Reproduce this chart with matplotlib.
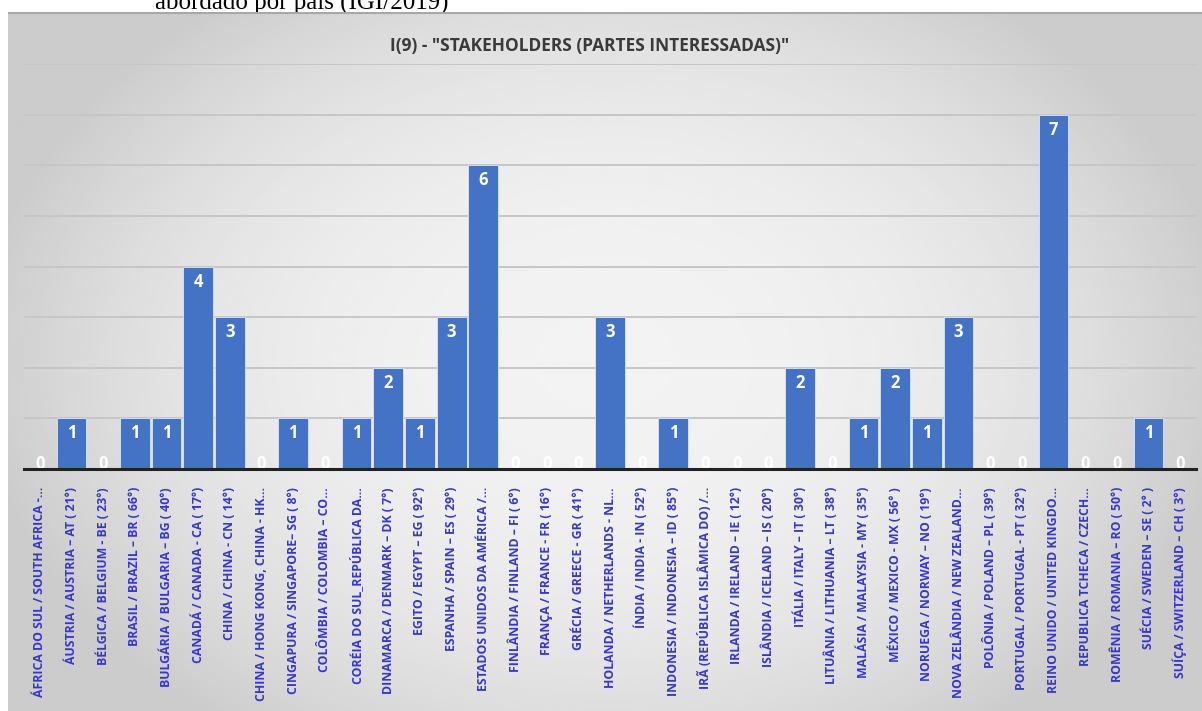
import numpy as np
import matplotlib.pyplot as plt

# countries (x axis) and number of "stakeholders" mentions
paises = [
    'ÁFRICA DO SUL / SOUTH AFRICA -…',
    'ÁUSTRIA / AUSTRIA – AT ( 21°)',
    'BÉLGICA / BELGIUM - BE ( 23°)',
    'BRASIL / BRAZIL – BR ( 66°)',
    'BULGÁRIA / BULGARIA – BG ( 40°)',
    'CANADÁ / CANADA - CA ( 17°)',
    'CHINA / CHINA - CN ( 14°)',
    'CHINA / HONG KONG, CHINA - HK…',
    'CINGAPURA / SINGAPORE– SG ( 8°)',
    'COLÔMBIA / COLOMBIA – CO…',
    'CORÉIA DO SUL_REPÚBLICA DA…',
    'DINAMARCA / DENMARK – DK ( 7°)',
    'EGITO / EGYPT – EG ( 92°)',
    'ESPANHA / SPAIN – ES ( 29°)',
    'ESTADOS UNIDOS DA AMÉRICA /…',
    'FINLÂNDIA / FINLAND – FI ( 6°)',
    'FRANÇA / FRANCE - FR ( 16°)',
    'GRÉCIA / GREECE - GR ( 41°)',
    'HOLANDA / NETHERLANDS - NL…',
    'ÍNDIA / INDIA - IN ( 52°)',
    'INDONESIA / INDONESIA – ID ( 85°)',
    'IRÃ (REPÚBLICA ISLÂMICA DO) /…',
    'IRLANDA / IRELAND – IE ( 12°)',
    'ISLÂNDIA / ICELAND – IS ( 20°)',
    'ITÁLIA / ITALY – IT ( 30°)',
    'LITUÂNIA / LITHUANIA – LT ( 38°)',
    'MALÁSIA / MALAYSIA - MY ( 35°)',
    'MÉXICO / MEXICO - MX ( 56° )',
    'NORUEGA / NORWAY – NO ( 19°)',
    'NOVA ZELÂNDIA / NEW ZEALAND…',
    'POLÔNIA / POLAND – PL ( 39°)',
    'PORTUGAL / PORTUGAL - PT ( 32°)',
    'REINO UNIDO / UNITED KINGDO…',
    'REPUBLICA TCHECA / CZECH…',
    'ROMÊNIA / ROMANIA – RO ( 50°)',
    'SUÉCIA / SWEDEN – SE ( 2° )',
    'SUÍÇA / SWITZERLAND – CH ( 3°)',
]
valores = [0, 1, 0, 1, 1, 4, 3, 0, 1, 0, 1, 2, 1, 3, 6, 0, 0, 0, 3, 0,
           1, 0, 0, 0, 2, 0, 1, 2, 1, 3, 0, 0, 7, 0, 0, 1, 0]

titulo = 'I(9) - "STAKEHOLDERS (PARTES INTERESSADAS)"'
legenda_doc = 'abordado por país (IGI/2019)'

W, H = 1202, 711
fig = plt.figure(figsize=(W / 100, H / 100), dpi=100)
fig.patch.set_facecolor('white')

# caption of the document, cut off at the top like in the page
fig.text(155 / W, 1 - 10 / H, legenda_doc, family='Liberation Serif',
         fontsize=18, ha='left', va='baseline', color='black', zorder=-1)

# chart panel with a radial grey gradient
bg = fig.add_axes([8 / W, 0, 1 - 8 / W, (H - 12) / H])
yy, xx = np.mgrid[-1:1:300j, -1:1:600j]
r = np.clip(np.sqrt((xx / 1.05) ** 2 + (yy / 1.3) ** 2), 0, 1)
shade = 0.95 - 0.15 * r ** 2.4
bg.imshow(shade, cmap='gray', vmin=0, vmax=1, aspect='auto',
          extent=[0, 1, 0, 1], interpolation='bilinear')
bg.plot([0, 1], [0.999, 0.999], color='#a8a8a8', lw=1.5)
bg.set_xlim(0, 1)
bg.set_ylim(0, 1)
bg.axis('off')

ax = fig.add_axes([24 / W, (H - 469) / H, (1196 - 24) / W, (469 - 64) / H])
ax.set_facecolor('none')

x = np.arange(len(paises))
ax.bar(x, valores, width=0.94, color='#4472C4', edgecolor='#dbe6f7',
       linewidth=0.6, zorder=3)

for xi, v in zip(x, valores):
    if v > 0:
        ax.text(xi, v - 0.12, str(v), ha='center', va='top', color='white',
                fontsize=12, fontweight='bold', family='Open Sans', zorder=4)
    else:
        ax.text(xi, 0.1, '0', ha='center', va='center', color='white',
                fontsize=12, fontweight='bold', family='Open Sans', zorder=4,
                clip_on=True)

ax.set_xlim(-0.5, len(paises) - 0.5)
ax.set_ylim(0, 8)
ax.set_yticks(range(0, 9))
ax.yaxis.grid(True, color='#c6c6c6', lw=1.4, zorder=0)
ax.tick_params(axis='y', left=False, labelleft=False)
for s in ['top', 'right', 'left']:
    ax.spines[s].set_visible(False)
ax.spines['bottom'].set_color('#222222')
ax.spines['bottom'].set_linewidth(2.2)
ax.spines['bottom'].set_zorder(5)

ax.set_xticks(x)
ax.set_xticklabels(paises, rotation=90, fontsize=8.8, fontweight='bold',
                   color='#3636d2', family='Open Sans', ha='center', va='top')
ax.tick_params(axis='x', length=0, pad=13)

fig.text(590 / W, 1 - 46 / H, titulo, ha='center', va='center', fontsize=12.5,
         fontweight='bold', color='#3a3a3a', family='Open Sans')

fig.savefig('out.png', dpi=100)
